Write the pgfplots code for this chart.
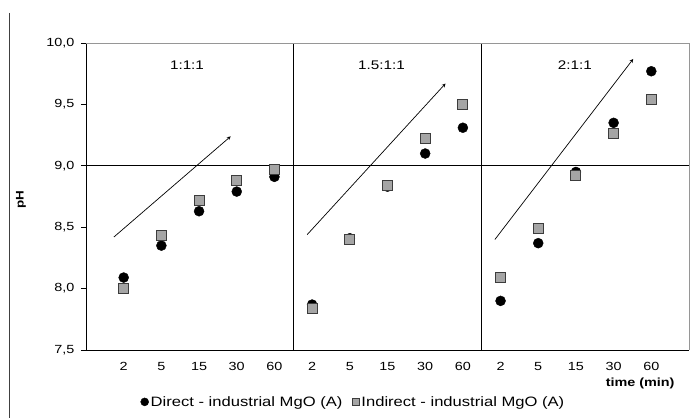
\documentclass[border=0pt]{standalone}
\usepackage{fontspec}
\setmainfont[FakeStretch=1.22]{Liberation Sans}
\usepackage{pgfplots}
\pgfplotsset{compat=1.18}
\definecolor{sqgray}{RGB}{165,165,165}
\definecolor{sqedge}{RGB}{60,60,60}
\definecolor{framegray}{RGB}{150,150,150}
\begin{document}
\begin{tikzpicture}
\begin{axis}[
 at={(0,0)}, anchor=south west,
 scale only axis, width=603pt, height=307pt,
 xmin=0, xmax=16, ymin=7.5, ymax=10,
 axis x line*=bottom, axis y line*=left,
 axis line style={black, line width=0.8pt},
 xtick={1,...,15}, xticklabels={2,5,15,30,60,2,5,15,30,60,2,5,15,30,60},
 major x tick style={draw=none},
 ytick={7.5,8,8.5,9,9.5,10},
 y tick style={black, line width=0.8pt}, tick align=outside, major tick length=5pt,
 ticklabel style={font=\fontsize{11.8}{13}\selectfont},
 yticklabel style={xshift=-3pt, /pgf/number format/.cd, use comma, fixed, fixed zerofill, precision=1, assume math mode=true},
 xticklabel style={yshift=-4pt},
 xlabel={time (min)}, ylabel={pH},
 every axis x label/.style={at={(rel axis cs:0.919,-0.1075)}, anchor=center, font=\bfseries\fontsize{11.8}{13}\selectfont},
 every axis y label/.style={at={(rel axis cs:-0.1078,0.49)}, anchor=center, rotate=90, font=\bfseries\fontsize{11}{12}\selectfont},
 legend style={at={(rel axis cs:0.4436,-0.169)}, anchor=center, draw=none, fill=none, legend columns=2, font=\fontsize{13.6}{15}\selectfont, /tikz/every even column/.append style={column sep=8pt}},
 legend cell align=left,
 clip=false,
]
% reference lines and frame
\draw[black, line width=0.8pt] (axis cs:0,9) -- (axis cs:16,9);
\draw[black, line width=0.8pt] (axis cs:5.5,7.5) -- (axis cs:5.5,10);
\draw[black, line width=0.8pt] (axis cs:10.5,7.5) -- (axis cs:10.5,10);
\draw[framegray, line width=0.8pt] (rel axis cs:0,1) -- (rel axis cs:1,1) -- (rel axis cs:1,0);

\addplot[only marks, mark=*, mark size=5pt, mark options={fill=black, draw=black},
 legend image code/.code={\draw[only marks, mark=*, mark size=4pt, mark options={fill=black,draw=black}] plot coordinates {(0.1cm,0cm)};}]
 coordinates {(1,8.09) (2,8.35) (3,8.63) (4,8.79) (5,8.91)
 (6,7.87) (7,8.41) (8,8.83) (9,9.10) (10,9.31)
 (11,7.90) (12,8.37) (13,8.95) (14,9.35) (15,9.77)};
\addlegendentry{Direct - industrial MgO (A)}
\addplot[only marks, mark=square*, mark size=5pt, mark options={fill=sqgray, draw=sqedge, line width=1.1pt},
 legend image code/.code={\draw[only marks, mark=square*, mark size=3.5pt, mark options={fill=sqgray,draw=sqedge,line width=0.9pt}] plot coordinates {(0.1cm,0cm)};}]
 coordinates {(1,8.00) (2,8.43) (3,8.72) (4,8.88) (5,8.97)
 (6,7.84) (7,8.40) (8,8.84) (9,9.22) (10,9.50)
 (11,8.09) (12,8.49) (13,8.92) (14,9.26) (15,9.54)};
\addlegendentry{Indirect - industrial MgO (A)}

\addplot[-stealth, black, line width=0.7pt, forget plot] coordinates {(0.74,8.42) (3.84,9.24)};
\addplot[-stealth, black, line width=0.7pt, forget plot] coordinates {(5.87,8.44) (9.54,9.67)};
\addplot[-stealth, black, line width=0.7pt, forget plot] coordinates {(10.85,8.40) (14.52,9.87)};

\node[font=\fontsize{12.5}{14}\selectfont] at (axis cs:2.68,9.82) {1:1:1};
\node[font=\fontsize{12.5}{14}\selectfont] at (axis cs:7.84,9.82) {1.5:1:1};
\node[font=\fontsize{12.5}{14}\selectfont] at (axis cs:12.97,9.82) {2:1:1};
\end{axis}
\pgfresetboundingbox
\path (-86pt,-68pt) rectangle (611pt,350pt);
\draw[black!75, line width=0.7pt] (-77pt,337pt) -- (-77pt,-68pt);
\end{tikzpicture}
\end{document}
